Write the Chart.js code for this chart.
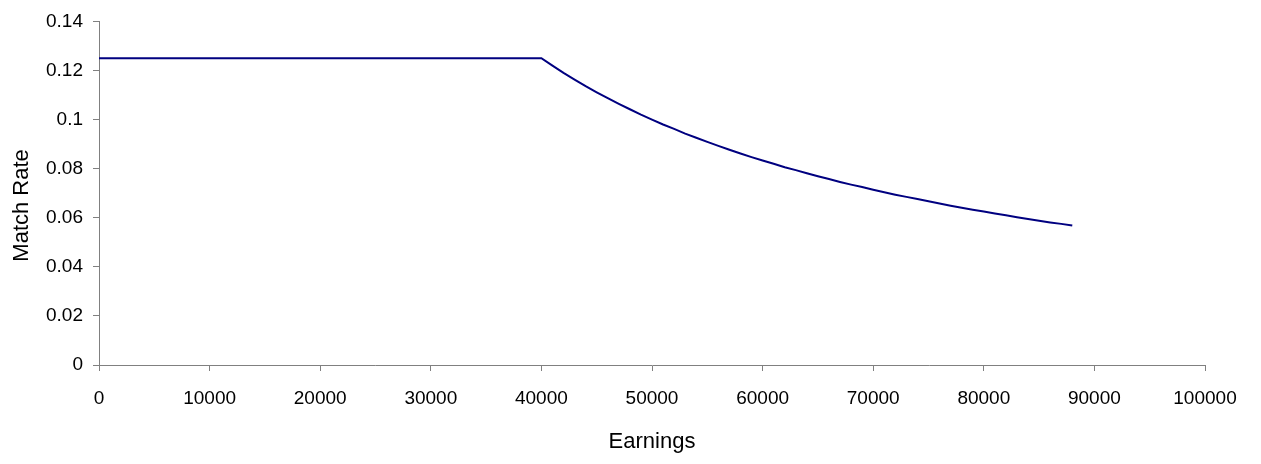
<!DOCTYPE html>
<html>
<head>
<meta charset="utf-8">
<script src="https://cdn.jsdelivr.net/npm/chart.js@4/dist/chart.umd.min.js"></script>
<style>
  html, body { margin: 0; padding: 0; background: #fff; }
  #wrap { position: relative; width: 1261px; height: 464px; }
</style>
</head>
<body>
<div id="wrap"><canvas id="match-chart"></canvas></div>
<script>
// 読み取った値（収入 → マッチ率）
var earnings = [0, 40000, 41000, 42000, 43000, 44000, 45000, 46000, 47000, 48000, 49000,
  50000, 51000, 52000, 53000, 54000, 55000, 56000, 57000, 58000, 59000,
  60000, 61000, 62000, 63000, 64000, 65000, 66000, 67000, 68000, 69000,
  70000, 71000, 72000, 73000, 74000, 75000, 76000, 77000, 78000, 79000,
  80000, 81000, 82000, 83000, 84000, 85000, 86000, 87000, 88000];
var matchRate = [0.125, 0.125, 0.1220, 0.1190, 0.1163, 0.1136, 0.1111, 0.1087, 0.1064, 0.1042, 0.1020,
  0.1000, 0.0980, 0.0962, 0.0943, 0.0926, 0.0909, 0.0893, 0.0877, 0.0862, 0.0847,
  0.0833, 0.0820, 0.0806, 0.0794, 0.0781, 0.0769, 0.0758, 0.0746, 0.0735, 0.0725,
  0.0714, 0.0704, 0.0694, 0.0685, 0.0676, 0.0667, 0.0658, 0.0649, 0.0641, 0.0633,
  0.0625, 0.0617, 0.0610, 0.0602, 0.0595, 0.0588, 0.0581, 0.0575, 0.0568];
var xTitle = 'Earnings';
var yTitle = 'Match Rate';

var FONT = '"Liberation Sans", Arial, sans-serif';
var AXIS_GRAY = '#808080';

var ctx = document.getElementById('match-chart').getContext('2d');
new Chart(ctx, {
  type: 'line',
  data: {
    datasets: [{
      label: yTitle,
      data: earnings.map(function(e, i) { return { x: e, y: matchRate[i] }; }),
      borderColor: '#000080',
      borderWidth: 2,
      pointRadius: 0,
      fill: false,
      tension: 0
    }]
  },
  options: {
    responsive: true,
    maintainAspectRatio: false,
    animation: false,
    layout: { padding: { top: 20, right: 56, left: 0, bottom: 0 } },
    plugins: { legend: { display: false }, tooltip: { enabled: false } },
    scales: {
      x: {
        type: 'linear',
        min: 0,
        max: 100000,
        afterFit: function(s) { s.height = 99; },
        ticks: {
          stepSize: 10000,
          color: '#000',
          font: { family: FONT, size: 19 },
          padding: 16,
          maxRotation: 0,
          callback: function(v) { return String(v); }
        },
        grid: { display: true, drawOnChartArea: false, drawTicks: true, tickLength: 6, color: AXIS_GRAY },
        border: { display: true, color: AXIS_GRAY, width: 1 },
        title: { display: true, text: xTitle, color: '#000', font: { family: FONT, size: 22 }, padding: { top: 4, bottom: 9 } }
      },
      y: {
        min: 0,
        max: 0.14,
        afterFit: function(s) { s.width = 99; },
        ticks: {
          stepSize: 0.02,
          color: '#000',
          font: { family: FONT, size: 19 },
          padding: 10,
          callback: function(v) { return String(Math.round(v * 100) / 100); }
        },
        grid: { display: true, drawOnChartArea: false, drawTicks: true, tickLength: 6, color: AXIS_GRAY },
        border: { display: true, color: AXIS_GRAY, width: 1 },
        // 参照では軸タイトルが少し下寄りなので末尾に空白を入れて調整
        title: { display: true, text: yTitle + '    ', color: '#000', font: { family: FONT, size: 22 }, padding: { top: 9, bottom: 4 } }
      }
    }
  }
});
</script>
</body>
</html>
